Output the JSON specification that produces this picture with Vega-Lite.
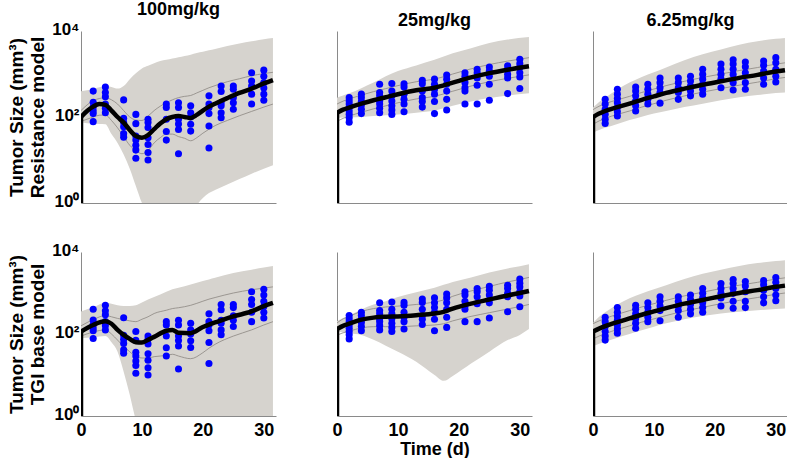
{
  "$schema": "https://vega.github.io/schema/vega-lite/v6.json",
  "padding": {"left": 7, "top": 1, "right": 0, "bottom": 0},
  "datasets": {
    "obs": [
      {"dose": 100, "time": 2, "size": 400}, {"dose": 100, "time": 2, "size": 220}, {"dose": 100, "time": 2, "size": 170}, {"dose": 100, "time": 2, "size": 140}, {"dose": 100, "time": 2, "size": 120}, {"dose": 100, "time": 2, "size": 78},
      {"dose": 100, "time": 4, "size": 500}, {"dose": 100, "time": 4, "size": 370}, {"dose": 100, "time": 4, "size": 295}, {"dose": 100, "time": 4, "size": 200}, {"dose": 100, "time": 4, "size": 160}, {"dose": 100, "time": 4, "size": 125},
      {"dose": 100, "time": 7, "size": 250}, {"dose": 100, "time": 7, "size": 93}, {"dose": 100, "time": 7, "size": 74}, {"dose": 100, "time": 7, "size": 59}, {"dose": 100, "time": 7, "size": 41}, {"dose": 100, "time": 7, "size": 34},
      {"dose": 100, "time": 9, "size": 115}, {"dose": 100, "time": 9, "size": 70}, {"dose": 100, "time": 9, "size": 36}, {"dose": 100, "time": 9, "size": 29}, {"dose": 100, "time": 9, "size": 22}, {"dose": 100, "time": 9, "size": 17}, {"dose": 100, "time": 9, "size": 11},
      {"dose": 100, "time": 11, "size": 89}, {"dose": 100, "time": 11, "size": 74}, {"dose": 100, "time": 11, "size": 57}, {"dose": 100, "time": 11, "size": 33}, {"dose": 100, "time": 11, "size": 23}, {"dose": 100, "time": 11, "size": 15}, {"dose": 100, "time": 11, "size": 10},
      {"dose": 100, "time": 14, "size": 200}, {"dose": 100, "time": 14, "size": 166}, {"dose": 100, "time": 14, "size": 89}, {"dose": 100, "time": 14, "size": 46}, {"dose": 100, "time": 14, "size": 29},
      {"dose": 100, "time": 16, "size": 215}, {"dose": 100, "time": 16, "size": 166}, {"dose": 100, "time": 16, "size": 89}, {"dose": 100, "time": 16, "size": 69}, {"dose": 100, "time": 16, "size": 51}, {"dose": 100, "time": 16, "size": 14},
      {"dose": 100, "time": 18, "size": 182}, {"dose": 100, "time": 18, "size": 126}, {"dose": 100, "time": 18, "size": 100}, {"dose": 100, "time": 18, "size": 68}, {"dose": 100, "time": 18, "size": 47},
      {"dose": 100, "time": 21, "size": 310}, {"dose": 100, "time": 21, "size": 200}, {"dose": 100, "time": 21, "size": 166}, {"dose": 100, "time": 21, "size": 120}, {"dose": 100, "time": 21, "size": 62}, {"dose": 100, "time": 21, "size": 19},
      {"dose": 100, "time": 23, "size": 525}, {"dose": 100, "time": 23, "size": 390}, {"dose": 100, "time": 23, "size": 215}, {"dose": 100, "time": 23, "size": 182}, {"dose": 100, "time": 23, "size": 126}, {"dose": 100, "time": 23, "size": 96},
      {"dose": 100, "time": 25, "size": 525}, {"dose": 100, "time": 25, "size": 440}, {"dose": 100, "time": 25, "size": 280}, {"dose": 100, "time": 25, "size": 215}, {"dose": 100, "time": 25, "size": 152},
      {"dose": 100, "time": 28, "size": 1070}, {"dose": 100, "time": 28, "size": 690}, {"dose": 100, "time": 28, "size": 525}, {"dose": 100, "time": 28, "size": 340}, {"dose": 100, "time": 28, "size": 200},
      {"dose": 100, "time": 30, "size": 1230}, {"dose": 100, "time": 30, "size": 890}, {"dose": 100, "time": 30, "size": 630}, {"dose": 100, "time": 30, "size": 470}, {"dose": 100, "time": 30, "size": 340}, {"dose": 100, "time": 30, "size": 245},

      {"dose": 25, "time": 2, "size": 282}, {"dose": 25, "time": 2, "size": 234}, {"dose": 25, "time": 2, "size": 200}, {"dose": 25, "time": 2, "size": 166}, {"dose": 25, "time": 2, "size": 138}, {"dose": 25, "time": 2, "size": 115}, {"dose": 25, "time": 2, "size": 96}, {"dose": 25, "time": 2, "size": 76},
      {"dose": 25, "time": 4, "size": 340}, {"dose": 25, "time": 4, "size": 282}, {"dose": 25, "time": 4, "size": 229}, {"dose": 25, "time": 4, "size": 191}, {"dose": 25, "time": 4, "size": 152}, {"dose": 25, "time": 4, "size": 120},
      {"dose": 25, "time": 7, "size": 575}, {"dose": 25, "time": 7, "size": 372}, {"dose": 25, "time": 7, "size": 310}, {"dose": 25, "time": 7, "size": 234}, {"dose": 25, "time": 7, "size": 200}, {"dose": 25, "time": 7, "size": 160}, {"dose": 25, "time": 7, "size": 126},
      {"dose": 25, "time": 9, "size": 600}, {"dose": 25, "time": 9, "size": 400}, {"dose": 25, "time": 9, "size": 310}, {"dose": 25, "time": 9, "size": 234}, {"dose": 25, "time": 9, "size": 182}, {"dose": 25, "time": 9, "size": 145}, {"dose": 25, "time": 9, "size": 115},
      {"dose": 25, "time": 11, "size": 590}, {"dose": 25, "time": 11, "size": 500}, {"dose": 25, "time": 11, "size": 340}, {"dose": 25, "time": 11, "size": 257}, {"dose": 25, "time": 11, "size": 200}, {"dose": 25, "time": 11, "size": 132},
      {"dose": 25, "time": 14, "size": 710}, {"dose": 25, "time": 14, "size": 590}, {"dose": 25, "time": 14, "size": 400}, {"dose": 25, "time": 14, "size": 282}, {"dose": 25, "time": 14, "size": 229}, {"dose": 25, "time": 14, "size": 170},
      {"dose": 25, "time": 16, "size": 760}, {"dose": 25, "time": 16, "size": 575}, {"dose": 25, "time": 16, "size": 440}, {"dose": 25, "time": 16, "size": 340}, {"dose": 25, "time": 16, "size": 229}, {"dose": 25, "time": 16, "size": 120},
      {"dose": 25, "time": 18, "size": 950}, {"dose": 25, "time": 18, "size": 760}, {"dose": 25, "time": 18, "size": 575}, {"dose": 25, "time": 18, "size": 400}, {"dose": 25, "time": 18, "size": 257}, {"dose": 25, "time": 18, "size": 145},
      {"dose": 25, "time": 21, "size": 1070}, {"dose": 25, "time": 21, "size": 890}, {"dose": 25, "time": 21, "size": 630}, {"dose": 25, "time": 21, "size": 480}, {"dose": 25, "time": 21, "size": 400}, {"dose": 25, "time": 21, "size": 200},
      {"dose": 25, "time": 23, "size": 1290}, {"dose": 25, "time": 23, "size": 1070}, {"dose": 25, "time": 23, "size": 810}, {"dose": 25, "time": 23, "size": 550}, {"dose": 25, "time": 23, "size": 200},
      {"dose": 25, "time": 25, "size": 1450}, {"dose": 25, "time": 25, "size": 1170}, {"dose": 25, "time": 25, "size": 890}, {"dose": 25, "time": 25, "size": 575}, {"dose": 25, "time": 25, "size": 245},
      {"dose": 25, "time": 28, "size": 1550}, {"dose": 25, "time": 28, "size": 1290}, {"dose": 25, "time": 28, "size": 980}, {"dose": 25, "time": 28, "size": 810}, {"dose": 25, "time": 28, "size": 350},
      {"dose": 25, "time": 30, "size": 2190}, {"dose": 25, "time": 30, "size": 1740}, {"dose": 25, "time": 30, "size": 1410}, {"dose": 25, "time": 30, "size": 1070}, {"dose": 25, "time": 30, "size": 850}, {"dose": 25, "time": 30, "size": 460},

      {"dose": 6.25, "time": 2, "size": 257}, {"dose": 6.25, "time": 2, "size": 200}, {"dose": 6.25, "time": 2, "size": 152}, {"dose": 6.25, "time": 2, "size": 115}, {"dose": 6.25, "time": 2, "size": 89}, {"dose": 6.25, "time": 2, "size": 71},
      {"dose": 6.25, "time": 4, "size": 440}, {"dose": 6.25, "time": 4, "size": 340}, {"dose": 6.25, "time": 4, "size": 270}, {"dose": 6.25, "time": 4, "size": 215}, {"dose": 6.25, "time": 4, "size": 166}, {"dose": 6.25, "time": 4, "size": 132}, {"dose": 6.25, "time": 4, "size": 105},
      {"dose": 6.25, "time": 7, "size": 500}, {"dose": 6.25, "time": 7, "size": 400}, {"dose": 6.25, "time": 7, "size": 310}, {"dose": 6.25, "time": 7, "size": 234}, {"dose": 6.25, "time": 7, "size": 182}, {"dose": 6.25, "time": 7, "size": 138},
      {"dose": 6.25, "time": 9, "size": 575}, {"dose": 6.25, "time": 9, "size": 440}, {"dose": 6.25, "time": 9, "size": 340}, {"dose": 6.25, "time": 9, "size": 257}, {"dose": 6.25, "time": 9, "size": 200},
      {"dose": 6.25, "time": 11, "size": 810}, {"dose": 6.25, "time": 11, "size": 630}, {"dose": 6.25, "time": 11, "size": 480}, {"dose": 6.25, "time": 11, "size": 372}, {"dose": 6.25, "time": 11, "size": 210},
      {"dose": 6.25, "time": 14, "size": 810}, {"dose": 6.25, "time": 14, "size": 630}, {"dose": 6.25, "time": 14, "size": 480}, {"dose": 6.25, "time": 14, "size": 372}, {"dose": 6.25, "time": 14, "size": 257},
      {"dose": 6.25, "time": 16, "size": 890}, {"dose": 6.25, "time": 16, "size": 690}, {"dose": 6.25, "time": 16, "size": 525}, {"dose": 6.25, "time": 16, "size": 400}, {"dose": 6.25, "time": 16, "size": 310},
      {"dose": 6.25, "time": 18, "size": 1290}, {"dose": 6.25, "time": 18, "size": 980}, {"dose": 6.25, "time": 18, "size": 760}, {"dose": 6.25, "time": 18, "size": 575}, {"dose": 6.25, "time": 18, "size": 440}, {"dose": 6.25, "time": 18, "size": 340},
      {"dose": 6.25, "time": 21, "size": 1700}, {"dose": 6.25, "time": 21, "size": 1290}, {"dose": 6.25, "time": 21, "size": 980}, {"dose": 6.25, "time": 21, "size": 760}, {"dose": 6.25, "time": 21, "size": 480},
      {"dose": 6.25, "time": 23, "size": 2140}, {"dose": 6.25, "time": 23, "size": 1700}, {"dose": 6.25, "time": 23, "size": 1290}, {"dose": 6.25, "time": 23, "size": 980}, {"dose": 6.25, "time": 23, "size": 630}, {"dose": 6.25, "time": 23, "size": 425},
      {"dose": 6.25, "time": 25, "size": 1900}, {"dose": 6.25, "time": 25, "size": 1480}, {"dose": 6.25, "time": 25, "size": 1070}, {"dose": 6.25, "time": 25, "size": 630}, {"dose": 6.25, "time": 25, "size": 440},
      {"dose": 6.25, "time": 28, "size": 2000}, {"dose": 6.25, "time": 28, "size": 1590}, {"dose": 6.25, "time": 28, "size": 1170}, {"dose": 6.25, "time": 28, "size": 810}, {"dose": 6.25, "time": 28, "size": 575},
      {"dose": 6.25, "time": 30, "size": 2400}, {"dose": 6.25, "time": 30, "size": 1820}, {"dose": 6.25, "time": 30, "size": 1290}, {"dose": 6.25, "time": 30, "size": 890}, {"dose": 6.25, "time": 30, "size": 650}
    ],
    "fit": [
      {"model": "R", "dose": 100, "time": 0, "med": 100, "lo": 74, "hi": 398, "ilo": 79, "ihi": 141},
      {"model": "R", "dose": 100, "time": 1, "med": 138, "lo": 72, "hi": 417, "ilo": 89, "ihi": 191},
      {"model": "R", "dose": 100, "time": 2, "med": 174, "lo": 71, "hi": 447, "ilo": 100, "ihi": 240},
      {"model": "R", "dose": 100, "time": 3, "med": 200, "lo": 69, "hi": 490, "ilo": 110, "ihi": 269},
      {"model": "R", "dose": 100, "time": 4, "med": 191, "lo": 68, "hi": 525, "ilo": 112, "ihi": 282},
      {"model": "R", "dose": 100, "time": 5, "med": 141, "lo": 40, "hi": 501, "ilo": 83, "ihi": 251},
      {"model": "R", "dose": 100, "time": 6, "med": 100, "lo": 25, "hi": 457, "ilo": 56, "ihi": 200},
      {"model": "R", "dose": 100, "time": 7, "med": 74, "lo": 13.5, "hi": 525, "ilo": 35, "ihi": 141},
      {"model": "R", "dose": 100, "time": 8, "med": 50, "lo": 6.3, "hi": 759, "ilo": 22, "ihi": 100},
      {"model": "R", "dose": 100, "time": 9, "med": 36, "lo": 2.5, "hi": 1047, "ilo": 16.6, "ihi": 85},
      {"model": "R", "dose": 100, "time": 10, "med": 33, "lo": 1, "hi": 1349, "ilo": 14, "ihi": 83},
      {"model": "R", "dose": 100, "time": 11, "med": 38, "lo": 0.5, "hi": 1549, "ilo": 16.6, "ihi": 105},
      {"model": "R", "dose": 100, "time": 12, "med": 52, "lo": 0.5, "hi": 1778, "ilo": 25, "ihi": 141},
      {"model": "R", "dose": 100, "time": 13, "med": 71, "lo": 0.63, "hi": 1995, "ilo": 33, "ihi": 178},
      {"model": "R", "dose": 100, "time": 14, "med": 89, "lo": 0.79, "hi": 2138, "ilo": 40, "ihi": 214},
      {"model": "R", "dose": 100, "time": 15, "med": 100, "lo": 1, "hi": 2291, "ilo": 40, "ihi": 251},
      {"model": "R", "dose": 100, "time": 16, "med": 105, "lo": 0.79, "hi": 2455, "ilo": 35, "ihi": 282},
      {"model": "R", "dose": 100, "time": 17, "med": 100, "lo": 0.5, "hi": 2630, "ilo": 32, "ihi": 302},
      {"model": "R", "dose": 100, "time": 18, "med": 95, "lo": 0.5, "hi": 2818, "ilo": 28, "ihi": 316},
      {"model": "R", "dose": 100, "time": 19, "med": 112, "lo": 0.89, "hi": 3090, "ilo": 33, "ihi": 363},
      {"model": "R", "dose": 100, "time": 20, "med": 141, "lo": 1.3, "hi": 3311, "ilo": 42, "ihi": 417},
      {"model": "R", "dose": 100, "time": 21, "med": 174, "lo": 1.7, "hi": 3548, "ilo": 52, "ihi": 479},
      {"model": "R", "dose": 100, "time": 22, "med": 204, "lo": 2, "hi": 3802, "ilo": 63, "ihi": 537},
      {"model": "R", "dose": 100, "time": 24, "med": 275, "lo": 2.7, "hi": 4467, "ilo": 83, "ihi": 661},
      {"model": "R", "dose": 100, "time": 26, "med": 363, "lo": 3.6, "hi": 5129, "ilo": 107, "ihi": 776},
      {"model": "R", "dose": 100, "time": 28, "med": 457, "lo": 4.8, "hi": 5754, "ilo": 135, "ihi": 912},
      {"model": "R", "dose": 100, "time": 30, "med": 603, "lo": 6.3, "hi": 6457, "ilo": 170, "ihi": 1023},
      {"model": "R", "dose": 100, "time": 31.5, "med": 724, "lo": 7.6, "hi": 6918, "ilo": 200, "ihi": 1096},

      {"model": "T", "dose": 100, "time": 0, "med": 115, "lo": 79, "hi": 355, "ilo": 89, "ihi": 158},
      {"model": "T", "dose": 100, "time": 2, "med": 166, "lo": 83, "hi": 447, "ilo": 112, "ihi": 224},
      {"model": "T", "dose": 100, "time": 4, "med": 204, "lo": 89, "hi": 575, "ilo": 126, "ihi": 282},
      {"model": "T", "dose": 100, "time": 5, "med": 178, "lo": 63, "hi": 550, "ilo": 100, "ihi": 263},
      {"model": "T", "dose": 100, "time": 6, "med": 126, "lo": 37, "hi": 501, "ilo": 71, "ihi": 240},
      {"model": "T", "dose": 100, "time": 7, "med": 95, "lo": 12, "hi": 479, "ilo": 50, "ihi": 224},
      {"model": "T", "dose": 100, "time": 8, "med": 76, "lo": 3.3, "hi": 479, "ilo": 37, "ihi": 209},
      {"model": "T", "dose": 100, "time": 9, "med": 63, "lo": 0.79, "hi": 501, "ilo": 28, "ihi": 200},
      {"model": "T", "dose": 100, "time": 10, "med": 62, "lo": 0.3, "hi": 589, "ilo": 26, "ihi": 229},
      {"model": "T", "dose": 100, "time": 11, "med": 72, "lo": 0.3, "hi": 692, "ilo": 26, "ihi": 263},
      {"model": "T", "dose": 100, "time": 12, "med": 85, "lo": 0.3, "hi": 794, "ilo": 28, "ihi": 316},
      {"model": "T", "dose": 100, "time": 14, "med": 120, "lo": 0.3, "hi": 1072, "ilo": 30, "ihi": 380},
      {"model": "T", "dose": 100, "time": 15, "med": 126, "lo": 0.3, "hi": 1230, "ilo": 32, "ihi": 417},
      {"model": "T", "dose": 100, "time": 16, "med": 107, "lo": 0.3, "hi": 1349, "ilo": 29, "ihi": 437},
      {"model": "T", "dose": 100, "time": 18, "med": 105, "lo": 0.3, "hi": 1622, "ilo": 25, "ihi": 501},
      {"model": "T", "dose": 100, "time": 20, "med": 148, "lo": 0.3, "hi": 1950, "ilo": 35, "ihi": 631},
      {"model": "T", "dose": 100, "time": 21, "med": 170, "lo": 0.3, "hi": 2138, "ilo": 45, "ihi": 708},
      {"model": "T", "dose": 100, "time": 22, "med": 191, "lo": 0.3, "hi": 2344, "ilo": 56, "ihi": 776},
      {"model": "T", "dose": 100, "time": 25, "med": 269, "lo": 0.3, "hi": 3090, "ilo": 89, "ihi": 1000},
      {"model": "T", "dose": 100, "time": 28, "med": 355, "lo": 0.3, "hi": 3715, "ilo": 126, "ihi": 1202},
      {"model": "T", "dose": 100, "time": 30, "med": 479, "lo": 0.3, "hi": 4169, "ilo": 166, "ihi": 1318},
      {"model": "T", "dose": 100, "time": 31.5, "med": 575, "lo": 0.3, "hi": 4571, "ilo": 200, "ihi": 1413},

      {"model": "R", "dose": 25, "time": 0, "med": 126, "lo": 95, "hi": 282, "ilo": 79, "ihi": 200},
      {"model": "R", "dose": 25, "time": 1, "med": 148, "lo": 97, "hi": 316, "ilo": 93, "ihi": 234},
      {"model": "R", "dose": 25, "time": 2, "med": 166, "lo": 98, "hi": 355, "ilo": 105, "ihi": 263},
      {"model": "R", "dose": 25, "time": 4, "med": 204, "lo": 100, "hi": 468, "ilo": 129, "ihi": 324},
      {"model": "R", "dose": 25, "time": 6, "med": 245, "lo": 105, "hi": 631, "ilo": 155, "ihi": 389},
      {"model": "R", "dose": 25, "time": 8, "med": 288, "lo": 110, "hi": 891, "ilo": 182, "ihi": 457},
      {"model": "R", "dose": 25, "time": 10, "med": 339, "lo": 115, "hi": 1175, "ilo": 214, "ihi": 537},
      {"model": "R", "dose": 25, "time": 13, "med": 417, "lo": 126, "hi": 1585, "ilo": 263, "ihi": 661},
      {"model": "R", "dose": 25, "time": 16, "med": 479, "lo": 141, "hi": 2138, "ilo": 302, "ihi": 759},
      {"model": "R", "dose": 25, "time": 19, "med": 631, "lo": 182, "hi": 3020, "ilo": 398, "ihi": 1000},
      {"model": "R", "dose": 25, "time": 22, "med": 832, "lo": 229, "hi": 3981, "ilo": 525, "ihi": 1318},
      {"model": "R", "dose": 25, "time": 25, "med": 1047, "lo": 275, "hi": 5248, "ilo": 661, "ihi": 1660},
      {"model": "R", "dose": 25, "time": 28, "med": 1259, "lo": 316, "hi": 6310, "ilo": 794, "ihi": 1995},
      {"model": "R", "dose": 25, "time": 31.5, "med": 1514, "lo": 355, "hi": 7244, "ilo": 955, "ihi": 2399},

      {"model": "T", "dose": 25, "time": 0, "med": 132, "lo": 115, "hi": 204, "ilo": 93, "ihi": 186},
      {"model": "T", "dose": 25, "time": 1, "med": 158, "lo": 110, "hi": 245, "ilo": 107, "ihi": 234},
      {"model": "T", "dose": 25, "time": 2, "med": 178, "lo": 105, "hi": 282, "ilo": 117, "ihi": 269},
      {"model": "T", "dose": 25, "time": 4, "med": 224, "lo": 95, "hi": 398, "ilo": 141, "ihi": 355},
      {"model": "T", "dose": 25, "time": 6, "med": 251, "lo": 72, "hi": 525, "ilo": 151, "ihi": 417},
      {"model": "T", "dose": 25, "time": 8, "med": 263, "lo": 52, "hi": 631, "ilo": 151, "ihi": 457},
      {"model": "T", "dose": 25, "time": 10, "med": 269, "lo": 37, "hi": 794, "ilo": 151, "ihi": 479},
      {"model": "T", "dose": 25, "time": 13, "med": 288, "lo": 21, "hi": 1047, "ilo": 158, "ihi": 525},
      {"model": "T", "dose": 25, "time": 16, "med": 316, "lo": 10, "hi": 1349, "ilo": 166, "ihi": 603},
      {"model": "T", "dose": 25, "time": 17.5, "med": 347, "lo": 7.2, "hi": 1585, "ilo": 178, "ihi": 676},
      {"model": "T", "dose": 25, "time": 19, "med": 417, "lo": 9.5, "hi": 1862, "ilo": 209, "ihi": 832},
      {"model": "T", "dose": 25, "time": 22, "med": 550, "lo": 19, "hi": 2399, "ilo": 269, "ihi": 1122},
      {"model": "T", "dose": 25, "time": 25, "med": 692, "lo": 37, "hi": 3162, "ilo": 331, "ihi": 1445},
      {"model": "T", "dose": 25, "time": 28, "med": 871, "lo": 71, "hi": 3981, "ilo": 407, "ihi": 1862},
      {"model": "T", "dose": 25, "time": 30, "med": 1000, "lo": 95, "hi": 4467, "ilo": 468, "ihi": 2138},
      {"model": "T", "dose": 25, "time": 31.5, "med": 1122, "lo": 132, "hi": 5012, "ilo": 525, "ihi": 2399},

      {"model": "R", "dose": 6.25, "time": 0, "med": 100, "lo": 43, "hi": 166, "ilo": 68, "ihi": 148},
      {"model": "R", "dose": 6.25, "time": 1, "med": 120, "lo": 50, "hi": 224, "ilo": 81, "ihi": 178},
      {"model": "R", "dose": 6.25, "time": 2, "med": 138, "lo": 56, "hi": 282, "ilo": 93, "ihi": 204},
      {"model": "R", "dose": 6.25, "time": 4, "med": 170, "lo": 69, "hi": 437, "ilo": 115, "ihi": 251},
      {"model": "R", "dose": 6.25, "time": 6, "med": 204, "lo": 85, "hi": 631, "ilo": 138, "ihi": 302},
      {"model": "R", "dose": 6.25, "time": 8, "med": 251, "lo": 102, "hi": 851, "ilo": 170, "ihi": 372},
      {"model": "R", "dose": 6.25, "time": 10, "med": 302, "lo": 120, "hi": 1096, "ilo": 204, "ihi": 447},
      {"model": "R", "dose": 6.25, "time": 12, "med": 363, "lo": 138, "hi": 1413, "ilo": 245, "ihi": 537},
      {"model": "R", "dose": 6.25, "time": 15, "med": 457, "lo": 170, "hi": 2089, "ilo": 309, "ihi": 676},
      {"model": "R", "dose": 6.25, "time": 18, "med": 562, "lo": 204, "hi": 2884, "ilo": 380, "ihi": 832},
      {"model": "R", "dose": 6.25, "time": 21, "med": 676, "lo": 245, "hi": 3715, "ilo": 457, "ihi": 1000},
      {"model": "R", "dose": 6.25, "time": 24, "med": 813, "lo": 288, "hi": 4786, "ilo": 550, "ihi": 1202},
      {"model": "R", "dose": 6.25, "time": 27, "med": 955, "lo": 324, "hi": 5754, "ilo": 646, "ihi": 1413},
      {"model": "R", "dose": 6.25, "time": 30, "med": 1148, "lo": 363, "hi": 6607, "ilo": 776, "ihi": 1698},
      {"model": "R", "dose": 6.25, "time": 31.5, "med": 1230, "lo": 372, "hi": 6918, "ilo": 832, "ihi": 1820},

      {"model": "T", "dose": 6.25, "time": 0, "med": 115, "lo": 50, "hi": 186, "ilo": 76, "ihi": 178},
      {"model": "T", "dose": 6.25, "time": 1, "med": 135, "lo": 58, "hi": 263, "ilo": 89, "ihi": 209},
      {"model": "T", "dose": 6.25, "time": 2, "med": 155, "lo": 65, "hi": 339, "ilo": 102, "ihi": 240},
      {"model": "T", "dose": 6.25, "time": 4, "med": 195, "lo": 81, "hi": 525, "ilo": 129, "ihi": 302},
      {"model": "T", "dose": 6.25, "time": 6, "med": 240, "lo": 100, "hi": 741, "ilo": 158, "ihi": 372},
      {"model": "T", "dose": 6.25, "time": 8, "med": 295, "lo": 123, "hi": 977, "ilo": 195, "ihi": 457},
      {"model": "T", "dose": 6.25, "time": 10, "med": 355, "lo": 151, "hi": 1230, "ilo": 234, "ihi": 550},
      {"model": "T", "dose": 6.25, "time": 12, "med": 427, "lo": 182, "hi": 1549, "ilo": 282, "ihi": 661},
      {"model": "T", "dose": 6.25, "time": 15, "med": 550, "lo": 229, "hi": 2188, "ilo": 363, "ihi": 851},
      {"model": "T", "dose": 6.25, "time": 18, "med": 676, "lo": 275, "hi": 2951, "ilo": 447, "ihi": 1047},
      {"model": "T", "dose": 6.25, "time": 21, "med": 832, "lo": 316, "hi": 3715, "ilo": 550, "ihi": 1288},
      {"model": "T", "dose": 6.25, "time": 24, "med": 1000, "lo": 347, "hi": 4571, "ilo": 661, "ihi": 1549},
      {"model": "T", "dose": 6.25, "time": 27, "med": 1175, "lo": 380, "hi": 5370, "ilo": 776, "ihi": 1820},
      {"model": "T", "dose": 6.25, "time": 30, "med": 1413, "lo": 407, "hi": 6026, "ilo": 933, "ihi": 2188},
      {"model": "T", "dose": 6.25, "time": 31.5, "med": 1514, "lo": 417, "hi": 6310, "ilo": 1000, "ihi": 2344}
    ]
  },
  "columns": 3,
  "spacing": {"row": 49, "column": 61},
  "bounds": "flush",
  "concat": [
    {
      "width": 195, "height": 172, "title": "100mg/kg",
      "layer": [
        {"data": {"name": "fit"}, "transform": [{"filter": "datum.model == 'R' && datum.dose == 100"}],
         "layer": [
           {"mark": {"type": "area", "color": "#D6D3CE", "interpolate": "monotone", "clip": true},
            "encoding": {
              "x": {"field": "time", "type": "quantitative", "scale": {"domain": [0, 32], "nice": false}, "axis": {"labels": false, "title": null}},
              "y": {"field": "lo", "type": "quantitative", "scale": {"type": "log", "domain": [1, 10000]}, "axis": {"values": [1, 100, 10000], "labelOffset": -2, "labelExpr": "datum.value == 1 ? '10⁰' : datum.value == 100 ? '10²' : '10⁴'", "title": ["Tumor Size (mm³)", "Resistance model"]}},
              "y2": {"field": "hi"}}},
           {"mark": {"type": "line", "color": "#8C8782", "strokeWidth": 0.8, "interpolate": "monotone", "clip": true},
            "encoding": {"x": {"field": "time", "type": "quantitative", "scale": {"domain": [0, 32], "nice": false}}, "y": {"field": "ihi", "type": "quantitative", "scale": {"type": "log", "domain": [1, 10000]}}}},
           {"mark": {"type": "line", "color": "#8C8782", "strokeWidth": 0.8, "interpolate": "monotone", "clip": true},
            "encoding": {"x": {"field": "time", "type": "quantitative", "scale": {"domain": [0, 32], "nice": false}}, "y": {"field": "ilo", "type": "quantitative", "scale": {"type": "log", "domain": [1, 10000]}}}}
         ]},
        {"data": {"name": "obs"}, "transform": [{"filter": "datum.dose == 100"}],
         "mark": {"type": "circle", "color": "#0000FF", "size": 50, "opacity": 1, "clip": true},
         "encoding": {"x": {"field": "time", "type": "quantitative", "scale": {"domain": [0, 32], "nice": false}}, "y": {"field": "size", "type": "quantitative", "scale": {"type": "log", "domain": [1, 10000]}}}},
        {"data": {"name": "fit"}, "transform": [{"filter": "datum.model == 'R' && datum.dose == 100"}],
         "layer": [
           {"mark": {"type": "line", "color": "black", "strokeWidth": 4.5, "interpolate": "monotone", "clip": true},
            "encoding": {"x": {"field": "time", "type": "quantitative", "scale": {"domain": [0, 32], "nice": false}}, "y": {"field": "med", "type": "quantitative", "scale": {"type": "log", "domain": [1, 10000]}}}},
           {"transform": [{"filter": "datum.time == 0"}],
            "mark": {"type": "rule", "color": "black", "strokeWidth": 4.5, "clip": true},
            "encoding": {"x": {"field": "time", "type": "quantitative", "scale": {"domain": [0, 32], "nice": false}}, "y": {"field": "med", "type": "quantitative", "scale": {"type": "log", "domain": [1, 10000]}}, "y2": {"datum": 1}}}
         ]}
      ]
    },
    {
      "width": 195, "height": 172, "title": "25mg/kg",
      "layer": [
        {"data": {"name": "fit"}, "transform": [{"filter": "datum.model == 'R' && datum.dose == 25"}],
         "layer": [
           {"mark": {"type": "area", "color": "#D6D3CE", "interpolate": "monotone", "clip": true},
            "encoding": {
              "x": {"field": "time", "type": "quantitative", "scale": {"domain": [0, 32], "nice": false}, "axis": {"labels": false, "title": null}},
              "y": {"field": "lo", "type": "quantitative", "scale": {"type": "log", "domain": [1, 10000]}, "axis": {"labels": false, "title": null}},
              "y2": {"field": "hi"}}},
           {"mark": {"type": "line", "color": "#8C8782", "strokeWidth": 0.8, "interpolate": "monotone", "clip": true},
            "encoding": {"x": {"field": "time", "type": "quantitative", "scale": {"domain": [0, 32], "nice": false}}, "y": {"field": "ihi", "type": "quantitative", "scale": {"type": "log", "domain": [1, 10000]}}}},
           {"mark": {"type": "line", "color": "#8C8782", "strokeWidth": 0.8, "interpolate": "monotone", "clip": true},
            "encoding": {"x": {"field": "time", "type": "quantitative", "scale": {"domain": [0, 32], "nice": false}}, "y": {"field": "ilo", "type": "quantitative", "scale": {"type": "log", "domain": [1, 10000]}}}}
         ]},
        {"data": {"name": "obs"}, "transform": [{"filter": "datum.dose == 25"}],
         "mark": {"type": "circle", "color": "#0000FF", "size": 50, "opacity": 1, "clip": true},
         "encoding": {"x": {"field": "time", "type": "quantitative", "scale": {"domain": [0, 32], "nice": false}}, "y": {"field": "size", "type": "quantitative", "scale": {"type": "log", "domain": [1, 10000]}}}},
        {"data": {"name": "fit"}, "transform": [{"filter": "datum.model == 'R' && datum.dose == 25"}],
         "layer": [
           {"mark": {"type": "line", "color": "black", "strokeWidth": 4.5, "interpolate": "monotone", "clip": true},
            "encoding": {"x": {"field": "time", "type": "quantitative", "scale": {"domain": [0, 32], "nice": false}}, "y": {"field": "med", "type": "quantitative", "scale": {"type": "log", "domain": [1, 10000]}}}},
           {"transform": [{"filter": "datum.time == 0"}],
            "mark": {"type": "rule", "color": "black", "strokeWidth": 4.5, "clip": true},
            "encoding": {"x": {"field": "time", "type": "quantitative", "scale": {"domain": [0, 32], "nice": false}}, "y": {"field": "med", "type": "quantitative", "scale": {"type": "log", "domain": [1, 10000]}}, "y2": {"datum": 1}}}
         ]}
      ]
    },
    {
      "width": 195, "height": 172, "title": "6.25mg/kg",
      "layer": [
        {"data": {"name": "fit"}, "transform": [{"filter": "datum.model == 'R' && datum.dose == 6.25"}],
         "layer": [
           {"mark": {"type": "area", "color": "#D6D3CE", "interpolate": "monotone", "clip": true},
            "encoding": {
              "x": {"field": "time", "type": "quantitative", "scale": {"domain": [0, 32], "nice": false}, "axis": {"labels": false, "title": null}},
              "y": {"field": "lo", "type": "quantitative", "scale": {"type": "log", "domain": [1, 10000]}, "axis": {"labels": false, "title": null}},
              "y2": {"field": "hi"}}},
           {"mark": {"type": "line", "color": "#8C8782", "strokeWidth": 0.8, "interpolate": "monotone", "clip": true},
            "encoding": {"x": {"field": "time", "type": "quantitative", "scale": {"domain": [0, 32], "nice": false}}, "y": {"field": "ihi", "type": "quantitative", "scale": {"type": "log", "domain": [1, 10000]}}}},
           {"mark": {"type": "line", "color": "#8C8782", "strokeWidth": 0.8, "interpolate": "monotone", "clip": true},
            "encoding": {"x": {"field": "time", "type": "quantitative", "scale": {"domain": [0, 32], "nice": false}}, "y": {"field": "ilo", "type": "quantitative", "scale": {"type": "log", "domain": [1, 10000]}}}}
         ]},
        {"data": {"name": "obs"}, "transform": [{"filter": "datum.dose == 6.25"}],
         "mark": {"type": "circle", "color": "#0000FF", "size": 50, "opacity": 1, "clip": true},
         "encoding": {"x": {"field": "time", "type": "quantitative", "scale": {"domain": [0, 32], "nice": false}}, "y": {"field": "size", "type": "quantitative", "scale": {"type": "log", "domain": [1, 10000]}}}},
        {"data": {"name": "fit"}, "transform": [{"filter": "datum.model == 'R' && datum.dose == 6.25"}],
         "layer": [
           {"mark": {"type": "line", "color": "black", "strokeWidth": 4.5, "interpolate": "monotone", "clip": true},
            "encoding": {"x": {"field": "time", "type": "quantitative", "scale": {"domain": [0, 32], "nice": false}}, "y": {"field": "med", "type": "quantitative", "scale": {"type": "log", "domain": [1, 10000]}}}},
           {"transform": [{"filter": "datum.time == 0"}],
            "mark": {"type": "rule", "color": "black", "strokeWidth": 4.5, "clip": true},
            "encoding": {"x": {"field": "time", "type": "quantitative", "scale": {"domain": [0, 32], "nice": false}}, "y": {"field": "med", "type": "quantitative", "scale": {"type": "log", "domain": [1, 10000]}}, "y2": {"datum": 1}}}
         ]}
      ]
    },
    {
      "width": 195, "height": 164,
      "layer": [
        {"data": {"name": "fit"}, "transform": [{"filter": "datum.model == 'T' && datum.dose == 100"}],
         "layer": [
           {"mark": {"type": "area", "color": "#D6D3CE", "interpolate": "monotone", "clip": true},
            "encoding": {
              "x": {"field": "time", "type": "quantitative", "scale": {"domain": [0, 32], "nice": false}, "axis": {"values": [0, 10, 20, 30], "title": null}},
              "y": {"field": "lo", "type": "quantitative", "scale": {"type": "log", "domain": [1, 10000]}, "axis": {"values": [1, 100, 10000], "labelOffset": -2, "labelExpr": "datum.value == 1 ? '10⁰' : datum.value == 100 ? '10²' : '10⁴'", "title": ["Tumor Size (mm³)", "TGI base model"]}},
              "y2": {"field": "hi"}}},
           {"mark": {"type": "line", "color": "#8C8782", "strokeWidth": 0.8, "interpolate": "monotone", "clip": true},
            "encoding": {"x": {"field": "time", "type": "quantitative", "scale": {"domain": [0, 32], "nice": false}}, "y": {"field": "ihi", "type": "quantitative", "scale": {"type": "log", "domain": [1, 10000]}}}},
           {"mark": {"type": "line", "color": "#8C8782", "strokeWidth": 0.8, "interpolate": "monotone", "clip": true},
            "encoding": {"x": {"field": "time", "type": "quantitative", "scale": {"domain": [0, 32], "nice": false}}, "y": {"field": "ilo", "type": "quantitative", "scale": {"type": "log", "domain": [1, 10000]}}}}
         ]},
        {"data": {"name": "obs"}, "transform": [{"filter": "datum.dose == 100"}],
         "mark": {"type": "circle", "color": "#0000FF", "size": 50, "opacity": 1, "clip": true},
         "encoding": {"x": {"field": "time", "type": "quantitative", "scale": {"domain": [0, 32], "nice": false}}, "y": {"field": "size", "type": "quantitative", "scale": {"type": "log", "domain": [1, 10000]}}}},
        {"data": {"name": "fit"}, "transform": [{"filter": "datum.model == 'T' && datum.dose == 100"}],
         "layer": [
           {"mark": {"type": "line", "color": "black", "strokeWidth": 4.5, "interpolate": "monotone", "clip": true},
            "encoding": {"x": {"field": "time", "type": "quantitative", "scale": {"domain": [0, 32], "nice": false}}, "y": {"field": "med", "type": "quantitative", "scale": {"type": "log", "domain": [1, 10000]}}}},
           {"transform": [{"filter": "datum.time == 0"}],
            "mark": {"type": "rule", "color": "black", "strokeWidth": 4.5, "clip": true},
            "encoding": {"x": {"field": "time", "type": "quantitative", "scale": {"domain": [0, 32], "nice": false}}, "y": {"field": "med", "type": "quantitative", "scale": {"type": "log", "domain": [1, 10000]}}, "y2": {"datum": 1}}}
         ]}
      ]
    },
    {
      "width": 195, "height": 164,
      "layer": [
        {"data": {"name": "fit"}, "transform": [{"filter": "datum.model == 'T' && datum.dose == 25"}],
         "layer": [
           {"mark": {"type": "area", "color": "#D6D3CE", "interpolate": "monotone", "clip": true},
            "encoding": {
              "x": {"field": "time", "type": "quantitative", "scale": {"domain": [0, 32], "nice": false}, "axis": {"values": [0, 10, 20, 30], "title": "Time (d)"}},
              "y": {"field": "lo", "type": "quantitative", "scale": {"type": "log", "domain": [1, 10000]}, "axis": {"labels": false, "title": null}},
              "y2": {"field": "hi"}}},
           {"mark": {"type": "line", "color": "#8C8782", "strokeWidth": 0.8, "interpolate": "monotone", "clip": true},
            "encoding": {"x": {"field": "time", "type": "quantitative", "scale": {"domain": [0, 32], "nice": false}}, "y": {"field": "ihi", "type": "quantitative", "scale": {"type": "log", "domain": [1, 10000]}}}},
           {"mark": {"type": "line", "color": "#8C8782", "strokeWidth": 0.8, "interpolate": "monotone", "clip": true},
            "encoding": {"x": {"field": "time", "type": "quantitative", "scale": {"domain": [0, 32], "nice": false}}, "y": {"field": "ilo", "type": "quantitative", "scale": {"type": "log", "domain": [1, 10000]}}}}
         ]},
        {"data": {"name": "obs"}, "transform": [{"filter": "datum.dose == 25"}],
         "mark": {"type": "circle", "color": "#0000FF", "size": 50, "opacity": 1, "clip": true},
         "encoding": {"x": {"field": "time", "type": "quantitative", "scale": {"domain": [0, 32], "nice": false}}, "y": {"field": "size", "type": "quantitative", "scale": {"type": "log", "domain": [1, 10000]}}}},
        {"data": {"name": "fit"}, "transform": [{"filter": "datum.model == 'T' && datum.dose == 25"}],
         "layer": [
           {"mark": {"type": "line", "color": "black", "strokeWidth": 4.5, "interpolate": "monotone", "clip": true},
            "encoding": {"x": {"field": "time", "type": "quantitative", "scale": {"domain": [0, 32], "nice": false}}, "y": {"field": "med", "type": "quantitative", "scale": {"type": "log", "domain": [1, 10000]}}}},
           {"transform": [{"filter": "datum.time == 0"}],
            "mark": {"type": "rule", "color": "black", "strokeWidth": 4.5, "clip": true},
            "encoding": {"x": {"field": "time", "type": "quantitative", "scale": {"domain": [0, 32], "nice": false}}, "y": {"field": "med", "type": "quantitative", "scale": {"type": "log", "domain": [1, 10000]}}, "y2": {"datum": 1}}}
         ]}
      ]
    },
    {
      "width": 195, "height": 164,
      "layer": [
        {"data": {"name": "fit"}, "transform": [{"filter": "datum.model == 'T' && datum.dose == 6.25"}],
         "layer": [
           {"mark": {"type": "area", "color": "#D6D3CE", "interpolate": "monotone", "clip": true},
            "encoding": {
              "x": {"field": "time", "type": "quantitative", "scale": {"domain": [0, 32], "nice": false}, "axis": {"values": [0, 10, 20, 30], "title": null}},
              "y": {"field": "lo", "type": "quantitative", "scale": {"type": "log", "domain": [1, 10000]}, "axis": {"labels": false, "title": null}},
              "y2": {"field": "hi"}}},
           {"mark": {"type": "line", "color": "#8C8782", "strokeWidth": 0.8, "interpolate": "monotone", "clip": true},
            "encoding": {"x": {"field": "time", "type": "quantitative", "scale": {"domain": [0, 32], "nice": false}}, "y": {"field": "ihi", "type": "quantitative", "scale": {"type": "log", "domain": [1, 10000]}}}},
           {"mark": {"type": "line", "color": "#8C8782", "strokeWidth": 0.8, "interpolate": "monotone", "clip": true},
            "encoding": {"x": {"field": "time", "type": "quantitative", "scale": {"domain": [0, 32], "nice": false}}, "y": {"field": "ilo", "type": "quantitative", "scale": {"type": "log", "domain": [1, 10000]}}}}
         ]},
        {"data": {"name": "obs"}, "transform": [{"filter": "datum.dose == 6.25"}],
         "mark": {"type": "circle", "color": "#0000FF", "size": 50, "opacity": 1, "clip": true},
         "encoding": {"x": {"field": "time", "type": "quantitative", "scale": {"domain": [0, 32], "nice": false}}, "y": {"field": "size", "type": "quantitative", "scale": {"type": "log", "domain": [1, 10000]}}}},
        {"data": {"name": "fit"}, "transform": [{"filter": "datum.model == 'T' && datum.dose == 6.25"}],
         "layer": [
           {"mark": {"type": "line", "color": "black", "strokeWidth": 4.5, "interpolate": "monotone", "clip": true},
            "encoding": {"x": {"field": "time", "type": "quantitative", "scale": {"domain": [0, 32], "nice": false}}, "y": {"field": "med", "type": "quantitative", "scale": {"type": "log", "domain": [1, 10000]}}}},
           {"transform": [{"filter": "datum.time == 0"}],
            "mark": {"type": "rule", "color": "black", "strokeWidth": 4.5, "clip": true},
            "encoding": {"x": {"field": "time", "type": "quantitative", "scale": {"domain": [0, 32], "nice": false}}, "y": {"field": "med", "type": "quantitative", "scale": {"type": "log", "domain": [1, 10000]}}, "y2": {"datum": 1}}}
         ]}
      ]
    }
  ],
  "config": {
    "view": {"stroke": null},
    "font": "Liberation Sans",
    "title": {"font": "Liberation Sans", "fontSize": 18, "fontWeight": "bold", "color": "black", "offset": 1},
    "axis": {
      "grid": false, "ticks": false, "domainColor": "#8A8A8A", "domainWidth": 1,
      "labelFont": "Liberation Sans", "labelFontSize": 17, "labelFontWeight": "bold", "labelColor": "black", "labelPadding": 2,
      "titleFont": "Liberation Sans", "titleFontSize": 19, "titleFontWeight": "bold", "titleColor": "black", "titlePadding": 4, "titleLineHeight": 21
    },
    "axisX": {"labelPadding": 5, "labelFlush": false, "labelFontSize": 18, "titleFontSize": 18, "titlePadding": 1}
  }
}
